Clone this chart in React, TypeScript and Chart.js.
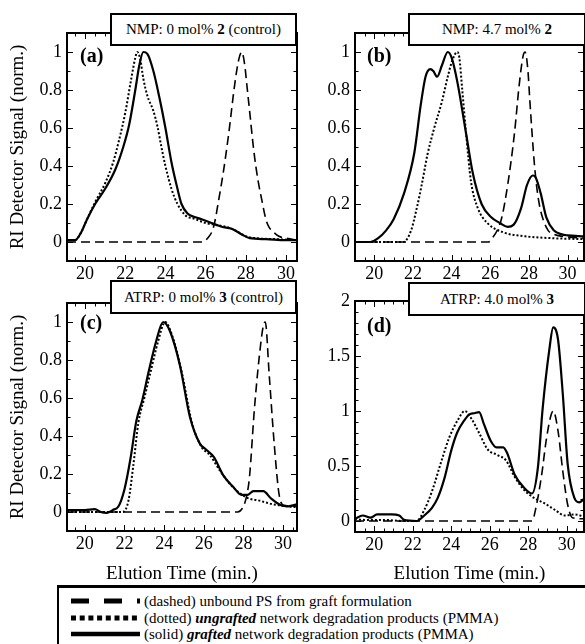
import React, { useEffect, useRef } from 'react';
import { Chart, registerables } from 'chart.js';
Chart.register(...registerables);

const FONT = "'Liberation Serif', 'Times New Roman', Times, serif";

// ---------- tick labels ----------
const xTicks = [20, 22, 24, 26, 28, 30];
const yTicksNorm = [0, 0.2, 0.4, 0.6, 0.8, 1];
const yTicksD = [0, 0.5, 1, 1.5, 2];

// ---------- panel (a) NMP: 0 mol% 2 (control) ----------
const aDashed = [[19.1,0],[25.8,0],[26.1,0.02],[26.4,0.08],[26.65,0.22],[26.9,0.38],[27.15,0.57],[27.45,0.83],[27.65,0.96],[27.8,1.0],[27.95,0.93],[28.05,0.83],[28.2,0.68],[28.4,0.48],[28.6,0.33],[28.8,0.22],[29.0,0.12],[29.15,0.08],[29.4,0.05],[29.65,0.03],[30.0,0.02],[30.55,0.01]];
const aDotted = [[19.1,0.01],[19.5,0.01],[19.8,0.05],[20.1,0.12],[20.5,0.21],[21.0,0.31],[21.4,0.42],[21.7,0.54],[22.0,0.68],[22.3,0.86],[22.5,0.97],[22.6,1.0],[22.75,0.96],[22.9,0.86],[23.1,0.77],[23.4,0.69],[23.6,0.61],[23.8,0.5],[24.0,0.4],[24.3,0.28],[24.6,0.2],[25.0,0.14],[25.5,0.12],[26.0,0.1],[26.5,0.09],[27.0,0.08],[27.5,0.06],[28.0,0.03],[28.5,0.02],[29.5,0.015],[30.55,0.01]];
const aSolid = [[19.1,0.01],[19.5,0.01],[19.8,0.05],[20.1,0.12],[20.5,0.2],[21.0,0.28],[21.5,0.38],[21.9,0.5],[22.2,0.62],[22.5,0.8],[22.7,0.93],[22.9,1.0],[23.1,0.99],[23.4,0.9],[23.7,0.76],[24.0,0.6],[24.3,0.42],[24.6,0.28],[24.8,0.2],[25.1,0.15],[25.5,0.13],[25.8,0.12],[26.3,0.1],[26.8,0.08],[27.3,0.07],[27.8,0.04],[28.2,0.02],[29.0,0.015],[30.0,0.01],[30.55,0.01]];

// ---------- panel (b) NMP: 4.7 mol% 2 ----------
const bDashed = [[19,0],[25.9,0],[26.1,0.02],[26.4,0.07],[26.6,0.13],[26.9,0.3],[27.25,0.57],[27.5,0.83],[27.7,0.98],[27.8,1.0],[27.95,0.9],[28.05,0.74],[28.3,0.39],[28.5,0.22],[28.7,0.13],[29.0,0.06],[29.3,0.04],[29.7,0.03],[30.85,0.02]];
const bDotted = [[19,0],[21.5,0],[21.9,0.06],[22.2,0.18],[22.45,0.3],[22.75,0.46],[23.1,0.6],[23.5,0.74],[23.8,0.87],[24.05,0.96],[24.3,1.0],[24.4,0.97],[24.55,0.8],[24.75,0.57],[25.0,0.32],[25.35,0.18],[25.85,0.1],[26.7,0.05],[27.8,0.03],[29.2,0.02],[30.85,0.015]];
const bSolid = [[19,0],[19.8,0],[20.2,0.02],[20.6,0.06],[21.0,0.12],[21.55,0.26],[22.07,0.47],[22.4,0.72],[22.65,0.87],[22.9,0.91],[23.05,0.9],[23.25,0.87],[23.5,0.93],[23.8,1.0],[24.0,0.97],[24.3,0.84],[24.75,0.57],[25.1,0.36],[25.55,0.2],[26.05,0.13],[26.5,0.1],[26.9,0.08],[27.2,0.09],[27.6,0.18],[27.9,0.3],[28.2,0.35],[28.35,0.34],[28.6,0.26],[28.9,0.13],[29.3,0.06],[29.7,0.04],[30.0,0.035],[30.85,0.03]];

// ---------- panel (c) ATRP: 0 mol% 3 (control) ----------
const cDashed = [[19.1,0],[27.7,0],[27.95,0.02],[28.15,0.08],[28.3,0.18],[28.55,0.54],[28.8,0.82],[29.0,0.98],[29.1,1.0],[29.3,0.72],[29.55,0.36],[29.8,0.09],[30.05,0.035],[30.7,0.03]];
const cDotted = [[19.1,0],[21.9,0],[22.2,0.06],[22.45,0.25],[22.7,0.47],[23.0,0.6],[23.3,0.73],[23.7,0.9],[24.05,1.0],[24.4,0.93],[24.9,0.73],[25.4,0.47],[25.9,0.34],[26.3,0.3],[26.8,0.22],[27.3,0.15],[27.8,0.1],[28.3,0.07],[28.8,0.06],[29.3,0.045],[29.8,0.035],[30.7,0.025]];
const cSolid = [[19.1,0.01],[19.5,0.01],[20.0,0.01],[20.5,0.015],[20.8,0.0],[21.1,-0.005],[21.4,0.01],[21.7,0.03],[22.0,0.12],[22.3,0.28],[22.6,0.48],[22.9,0.59],[23.2,0.73],[23.6,0.9],[23.95,1.0],[24.3,0.95],[24.8,0.77],[25.3,0.5],[25.8,0.36],[26.1,0.33],[26.5,0.29],[27.0,0.19],[27.5,0.13],[27.9,0.09],[28.2,0.09],[28.5,0.11],[29.0,0.11],[29.4,0.07],[29.9,0.035],[30.25,0.03],[30.7,0.04]];

// ---------- panel (d) ATRP: 4.0 mol% 3 ----------
const dDashed = [[19,0],[28.2,0],[28.4,0.12],[28.7,0.42],[28.95,0.75],[29.2,0.97],[29.3,1.0],[29.55,0.82],[29.8,0.45],[30.05,0.15],[30.3,0.03],[30.9,0.02]];
const dDotted = [[19,0.02],[19.5,0.01],[20.5,0.01],[21.5,0.0],[22.2,0.0],[22.6,0.1],[23.0,0.27],[23.5,0.55],[23.9,0.76],[24.35,0.92],[24.7,1.0],[25.05,0.93],[25.45,0.8],[25.9,0.65],[26.4,0.6],[26.85,0.55],[27.3,0.4],[27.8,0.28],[28.3,0.21],[28.85,0.16],[29.4,0.1],[29.9,0.05],[30.4,0.06],[30.9,0.04]];
const dSolid = [[19,0.02],[19.4,0.05],[19.8,0.03],[20.15,0.06],[20.6,0.06],[20.9,0.06],[21.3,0.05],[21.55,0.01],[22.2,0.0],[22.6,0.05],[23.0,0.12],[23.3,0.21],[23.65,0.39],[24.0,0.64],[24.3,0.8],[24.7,0.92],[24.95,0.97],[25.2,0.98],[25.45,0.99],[25.7,0.88],[26.05,0.73],[26.35,0.67],[26.7,0.67],[26.9,0.62],[27.3,0.42],[27.8,0.3],[28.2,0.25],[28.5,0.48],[28.75,1.02],[29.1,1.56],[29.3,1.76],[29.55,1.65],[29.8,1.15],[30.05,0.52],[30.4,0.21],[30.65,0.17],[30.9,0.2]];

const Y_TITLE = 'RI Detector Signal (norm.)';
const X_TITLE = 'Elution Time (min.)';

type Pt = number[];
interface PanelCfg {
  left: number; top: number; w: number; h: number;
  padTop: number; padRight: number; yw: number; xh: number;
  xmin: number; xmax: number; ymin: number; ymax: number;
  yTicks: number[]; yMinor: number;
  dashed: Pt[]; dotted: Pt[]; solid: Pt[];
  yTitle: boolean; xTitle: boolean;
}

const panels: PanelCfg[] = [
  { left: 0, top: 0, w: 310, h: 300, padTop: 33, padRight: 13, yw: 67, xh: 39,
    xmin: 19.1, xmax: 30.55, ymin: -0.1, ymax: 1.1, yTicks: yTicksNorm, yMinor: 0.1,
    dashed: aDashed, dotted: aDotted, solid: aSolid, yTitle: true, xTitle: false },
  { left: 300, top: 0, w: 285, h: 300, padTop: 33, padRight: 1, yw: 55, xh: 39,
    xmin: 19.0, xmax: 30.85, ymin: -0.1, ymax: 1.1, yTicks: yTicksNorm, yMinor: 0.1,
    dashed: bDashed, dotted: bDotted, solid: bSolid, yTitle: false, xTitle: false },
  { left: 0, top: 285, w: 310, h: 300, padTop: 18, padRight: 13, yw: 67, xh: 54,
    xmin: 19.1, xmax: 30.7, ymin: -0.1, ymax: 1.1, yTicks: yTicksNorm, yMinor: 0.1,
    dashed: cDashed, dotted: cDotted, solid: cSolid, yTitle: true, xTitle: true },
  { left: 300, top: 285, w: 285, h: 300, padTop: 16, padRight: 1, yw: 55, xh: 53,
    xmin: 19.0, xmax: 30.9, ymin: -0.1, ymax: 2.0, yTicks: yTicksD, yMinor: 0.1,
    dashed: dDashed, dotted: dDotted, solid: dSolid, yTitle: false, xTitle: true },
];

const framePlugin = {
  id: 'frame',
  afterDatasetsDraw(chart: any, _args: any, opts: any) {
    const { ctx, chartArea } = chart;
    const { left, right, top, bottom } = chartArea;
    const xs = chart.scales.x;
    const ys = chart.scales.y;
    ctx.save();
    ctx.strokeStyle = '#000';
    ctx.lineWidth = 1;
    ctx.beginPath();
    const isMajor = (arr: number[], v: number) => arr.some((t) => Math.abs(t - v) < 1e-6);
    const xStep = 0.5;
    for (let k = Math.ceil(xs.min / xStep); k * xStep <= xs.max + 1e-9; k++) {
      const v = k * xStep;
      const L = isMajor(xTicks, v) ? 6 : 3.5;
      const px = Math.round(xs.getPixelForValue(v)) + 0.5;
      ctx.moveTo(px, bottom); ctx.lineTo(px, bottom - L);
      ctx.moveTo(px, top); ctx.lineTo(px, top + L);
    }
    const yStep = opts.yMinor;
    for (let k = Math.ceil(ys.min / yStep - 1e-9); k * yStep <= ys.max + 1e-9; k++) {
      const v = k * yStep;
      const L = isMajor(opts.yTicks, v) ? 6 : 3.5;
      const py = Math.round(ys.getPixelForValue(v)) + 0.5;
      ctx.moveTo(left, py); ctx.lineTo(left + L, py);
      ctx.moveTo(right, py); ctx.lineTo(right - L, py);
    }
    ctx.stroke();
    ctx.lineWidth = 2;
    ctx.strokeRect(left, top, right - left, bottom - top);
    ctx.restore();
  },
};

const toXY = (arr: Pt[]) => arr.map(([x, y]) => ({ x, y }));
const fmt = (v: any) => String(parseFloat(Number(v).toFixed(2)));

function Panel({ cfg }: { cfg: PanelCfg }) {
  const ref = useRef<HTMLCanvasElement | null>(null);
  useEffect(() => {
    const line = (data: Pt[], dash: number[], width: number) => ({
      data: toXY(data),
      borderColor: '#000',
      borderWidth: width,
      borderDash: dash,
      pointRadius: 0,
      fill: false,
      cubicInterpolationMode: 'monotone' as const,
    });
    const chart = new Chart(ref.current as HTMLCanvasElement, {
      type: 'line',
      data: {
        datasets: [
          line(cfg.dashed, [9, 5], 1.6),
          line(cfg.dotted, [2, 2], 2),
          line(cfg.solid, [], 2.2),
        ],
      },
      plugins: [framePlugin],
      options: {
        animation: false,
        responsive: false,
        maintainAspectRatio: false,
        layout: { padding: { top: cfg.padTop, right: cfg.padRight, left: 0, bottom: 0 } },
        plugins: {
          legend: { display: false },
          tooltip: { enabled: false },
          frame: { yTicks: cfg.yTicks, yMinor: cfg.yMinor },
        } as any,
        scales: {
          x: {
            type: 'linear',
            min: cfg.xmin,
            max: cfg.xmax,
            afterBuildTicks: (s: any) => { s.ticks = xTicks.map((v) => ({ value: v })); },
            afterFit: (s: any) => { s.height = cfg.xh; },
            grid: { display: false, drawTicks: false },
            border: { display: false },
            ticks: { color: '#000', font: { family: FONT, size: 18 }, padding: 2, maxRotation: 0, autoSkip: false, callback: fmt },
            title: { display: cfg.xTitle, text: X_TITLE, color: '#000', font: { family: FONT, size: 19 }, padding: { top: 0, bottom: 0 } },
          },
          y: {
            type: 'linear',
            min: cfg.ymin,
            max: cfg.ymax,
            afterBuildTicks: (s: any) => { s.ticks = cfg.yTicks.map((v) => ({ value: v })); },
            afterFit: (s: any) => { s.width = cfg.yw; },
            grid: { display: false, drawTicks: false },
            border: { display: false },
            ticks: { color: '#000', font: { family: FONT, size: 18 }, padding: 5, autoSkip: false, callback: fmt },
            title: { display: cfg.yTitle, text: Y_TITLE, color: '#000', font: { family: FONT, size: 19 }, padding: { top: 7, bottom: 0 } },
          },
        },
      } as any,
    });
    return () => chart.destroy();
  }, []);
  return (
    <canvas
      ref={ref}
      width={cfg.w}
      height={cfg.h}
      style={{ position: 'absolute', left: cfg.left, top: cfg.top, width: cfg.w, height: cfg.h }}
    />
  );
}

const headerStyle = (left: number, top: number, width: number, height: number): React.CSSProperties => ({
  position: 'absolute', left, top, width, height, boxSizing: 'border-box',
  border: '2px solid #000', background: '#fff', display: 'flex', alignItems: 'center',
  justifyContent: 'center', fontFamily: FONT, fontSize: 15, color: '#000', whiteSpace: 'nowrap',
});

const letterStyle = (left: number, top: number): React.CSSProperties => ({
  position: 'absolute', left, top, fontFamily: FONT, fontSize: 20, fontWeight: 'bold',
  lineHeight: '20px', color: '#000',
});

const legendText: React.CSSProperties = {
  position: 'absolute', left: 85, fontFamily: FONT, fontSize: 15, lineHeight: '16px', color: '#000', whiteSpace: 'nowrap',
};

export default function App() {
  return (
    <div style={{ position: 'absolute', left: 0, top: 0, width: 585, height: 644, overflow: 'hidden', background: '#fff' }}>
      {panels.map((p, i) => <Panel key={i} cfg={p} />)}
      <div style={headerStyle(110, 13, 187, 33)}>NMP: 0 mol%&nbsp;<b>2</b>&nbsp;(control)</div>
      <div style={headerStyle(408, 13, 178, 33)}>NMP: 4.7 mol%&nbsp;<b>2</b></div>
      <div style={headerStyle(110, 280, 187, 34)}>ATRP: 0 mol%&nbsp;<b>3</b>&nbsp;(control)</div>
      <div style={headerStyle(408, 282, 178, 34)}>ATRP: 4.0 mol%&nbsp;<b>3</b></div>
      <div style={letterStyle(80, 45)}>(a)</div>
      <div style={letterStyle(367, 45)}>(b)</div>
      <div style={letterStyle(80, 312)}>(c)</div>
      <div style={letterStyle(367, 315)}>(d)</div>
      <div style={{ position: 'absolute', left: 57, top: 585, width: 540, height: 80, boxSizing: 'border-box', borderTop: '3px solid #000', borderLeft: '2px solid #000', background: '#fff' }}>
        <svg width={100} height={60} style={{ position: 'absolute', left: 0, top: 0 }}>
          <line x1={12} y1={13} x2={81} y2={13} stroke="#000" strokeWidth={5} strokeDasharray="18 15" />
          <line x1={12} y1={30} x2={81} y2={30} stroke="#000" strokeWidth={5} strokeDasharray="5 3.7" />
          <line x1={12} y1={46} x2={81} y2={46} stroke="#000" strokeWidth={4.5} />
        </svg>
        <div style={{ ...legendText, top: 5 }}>(dashed) unbound PS from graft formulation</div>
        <div style={{ ...legendText, top: 22 }}>(dotted) <b><i>ungrafted</i></b> network degradation products (PMMA)</div>
        <div style={{ ...legendText, top: 38 }}>(solid) <b><i>grafted</i></b> network degradation products (PMMA)</div>
      </div>
    </div>
  );
}
